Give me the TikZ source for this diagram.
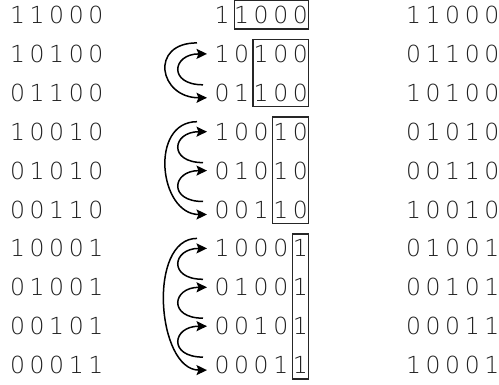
\documentclass[tikz,border=0pt]{standalone}
\usepackage{fontspec}
\IfFontExistsTF{DejaVu Sans ExtraLight}{\newfontfamily\digfont{DejaVu Sans ExtraLight}}{\newfontfamily\digfont{DejaVu Sans}}
\usetikzlibrary{arrows.meta,calc}
\newcommand\dd[1]{\makebox[19.6pt]{#1}}
\def\bits#1{\bitsi#1\relax}
\def\bitsi#1{\ifx#1\relax\else\dd{#1}\expandafter\bitsi\fi}
\begin{document}
\begin{tikzpicture}[x=1pt,y=-1pt,
  digits/.style={font=\digfont\fontsize{23.5}{24}\selectfont, text=black!88, inner sep=0pt, anchor=west, text height=17.1pt, text depth=0pt},
  frame/.style={draw=black!85, line width=1.4pt},
  swap/.style={-{Stealth[length=10.5pt,width=10pt,inset=2pt]}, line width=1.5pt}]
\useasboundingbox (0,0) rectangle (499,385);
\foreach \a/\b [count=\i] in {11000/11000,10100/01100,01100/10100,10010/01010,01010/00110,00110/10010,10001/01001,01001/00101,00101/00011,00011/10001}{
  \pgfmathsetmacro\yy{15+38.9*(\i-1)}
  \node[digits] (l\i) at (7.5,\yy) {\expandafter\bits\expandafter{\a}};
  \node[digits] (m\i) at (212,\yy) {\expandafter\bits\expandafter{\a}};
  \node[digits] (r\i) at (403.5,\yy) {\expandafter\bits\expandafter{\b}};
}
% frames
\draw[frame] ($(m1.west)+(22.4,-14.5)$) rectangle ($(m1.east)+(-1.8,14)$);
\draw[frame] ($(m2.west)+(41,-14.5)$) rectangle ($(m3.east)+(-1.8,14)$);
\draw[frame] ($(m4.west)+(60.6,-14.5)$) rectangle ($(m6.east)+(-1.8,14)$);
\draw[frame] ($(m7.west)+(80.2,-14.5)$) rectangle ($(m10.east)+(-1.8,14)$);
% swaps, group 1
\draw[swap] ($(m2.west)+(-15,-11)$) .. controls +(-48,0) and +(-48,0) .. ($(m3.west)+(-5,5)$);
\draw[swap] ($(m3.west)+(-9,-8)$) .. controls +(-35,0) and +(-35,0) .. ($(m2.west)+(-5,0)$);
% group 2
\draw[swap] ($(m4.west)+(-15,-10)$) .. controls +(-48,0) and +(-48,0) .. ($(m6.west)+(-5,5)$);
\draw[swap] ($(m5.west)+(-9,-8)$) .. controls +(-35,0) and +(-35,0) .. ($(m4.west)+(-5,0)$);
\draw[swap] ($(m6.west)+(-9,-8)$) .. controls +(-35,0) and +(-35,0) .. ($(m5.west)+(-5,0)$);
% group 3
\draw[swap] ($(m7.west)+(-15,-10)$) .. controls +(-50,0) and +(-50,0) .. ($(m10.west)+(-5,5)$);
\draw[swap] ($(m8.west)+(-9,-8)$) .. controls +(-35,0) and +(-35,0) .. ($(m7.west)+(-5,0)$);
\draw[swap] ($(m9.west)+(-9,-8)$) .. controls +(-35,0) and +(-35,0) .. ($(m8.west)+(-5,0)$);
\draw[swap] ($(m10.west)+(-9,-8)$) .. controls +(-35,0) and +(-35,0) .. ($(m9.west)+(-5,0)$);
\end{tikzpicture}
\end{document}
